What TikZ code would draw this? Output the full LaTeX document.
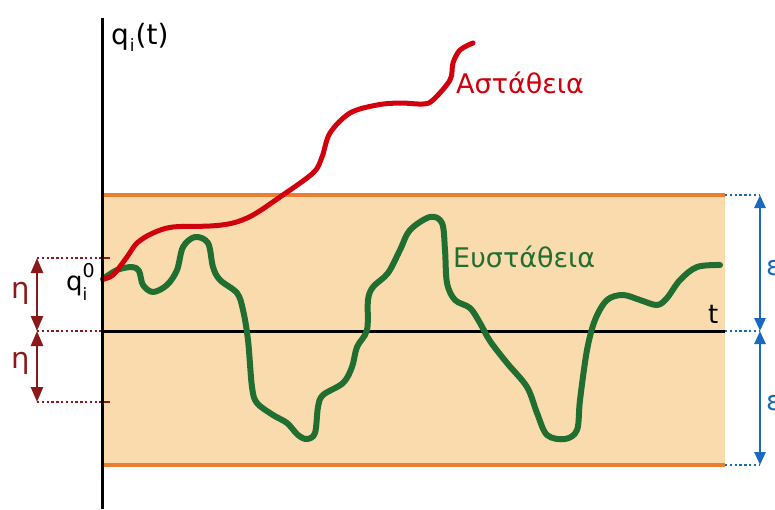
\documentclass[tikz,border=0pt]{standalone}
\usepackage{fontspec}
\setmainfont{DejaVu Sans}
\usetikzlibrary{arrows.meta}
\definecolor{bandfill}{RGB}{250,219,173}
\definecolor{bandline}{RGB}{237,125,49}
\definecolor{unstred}{RGB}{208,0,12}
\definecolor{stgreen}{RGB}{32,110,48}
\definecolor{etared}{RGB}{140,25,25}
\definecolor{epsblue}{RGB}{25,105,190}
\tikzset{
  biglabel/.style={inner sep=0pt,anchor=base west,font=\fontsize{27}{32}\selectfont},
  guide/.style={line width=1.4pt,dash pattern=on 2.4pt off 2.4pt},
  etaarrow/.style={etared,line width=2.6pt,{Triangle[width=12pt,length=15pt]}-{Triangle[width=12pt,length=15pt]}},
  epsarrow/.style={epsblue,line width=2.6pt,{Triangle[width=11pt,length=13pt]}-{Triangle[width=11pt,length=13pt]}},
  curve/.style={line cap=round,line join=round,smooth,tension=0.55}
}
\begin{document}
\begin{tikzpicture}[x=1pt,y=-1pt]
\useasboundingbox (0,0) rectangle (775,509);
% band
\fill[bandfill] (102,195) rectangle (725,465);
\draw[bandline,line width=3.6pt] (102,195) -- (725,195);
\draw[bandline,line width=3.6pt] (102,465) -- (725,465);
% coordinates
\coordinate (eT) at (37,258);
\coordinate (eM) at (37,331);
\coordinate (eB) at (37,402);
\coordinate (aT) at (102,258);
\coordinate (aM) at (102,331);
\coordinate (aB) at (102,402);
\coordinate (tT) at (110,258);
\coordinate (tB) at (110,402);
\coordinate (bT) at (725,195);
\coordinate (bM) at (725,331);
\coordinate (bB) at (725,465);
\coordinate (pT) at (760,195);
\coordinate (pM) at (760,331);
\coordinate (pB) at (760,465);
\coordinate (yTop) at (102,18);
\coordinate (yBot) at (102,509);
% t axis
\draw[black,line width=3pt] (aM) -- (bM);
% eta guides
\draw[etared,guide] (eT) -- (aT);
\draw[etared,guide] (eM) -- (aM);
\draw[etared,guide] (eB) -- (aB);
\draw[etared,line width=2.8pt] (aT) -- (tT);
\draw[etared,line width=2.8pt] (aB) -- (tB);
\draw[etaarrow] (eT) -- (eM);
\draw[etaarrow] (eM) -- (eB);
% eps guides
\draw[epsblue,guide] (bT) -- (pT);
\draw[epsblue,guide] (bM) -- (pM);
\draw[epsblue,guide] (bB) -- (pB);
\draw[epsarrow] (pT) -- (pM);
\draw[epsarrow] (pM) -- (pB);
% stable curve
\draw[stgreen,line width=6pt,curve] plot coordinates {(103,279) (117,270) (132,267) (139,271) (143,285) (153,292) (167,285) (177,270) (183,247) (195,237) (208,243) (213,267) (220,280) (237,293) (243,310) (248,340) (252,387) (257,403) (273,415) (287,423) (298,435) (307,439) (315,433) (318,407) (323,395) (343,383) (352,367) (357,347) (367,330) (368,300) (373,287) (388,273) (400,250) (410,230) (430,217) (442,223) (445,250) (447,283) (455,300) (470,308) (480,323) (490,341) (507,363) (527,387) (537,413) (547,435) (565,439) (577,430) (580,400) (587,350) (595,320) (607,300) (623,295) (640,300) (657,305) (667,298) (680,280) (697,267) (720,265)};
% unstable curve
\draw[unstred,line width=5pt,curve] plot coordinates {(103,279) (113,275) (127,257) (137,243) (153,233) (173,227) (210,226) (233,223) (253,215) (280,197) (313,173) (322,157) (330,133) (350,113) (377,105) (400,103) (423,104) (433,100) (450,80) (453,63) (460,50) (473,43)};
% vertical axis
\draw[black,line width=3pt] (yTop) -- (yBot);
% labels
\node[biglabel,font=\fontsize{28}{32}\selectfont] (qt) at (111,44) {q\kern1pt\raisebox{-7pt}{\fontsize{17}{17}\selectfont i}\kern1pt(t)};
\node[biglabel,font=\fontsize{26}{30}\selectfont] (q0) at (66,290) {q\rlap{\raisebox{-10pt}{\fontsize{17}{17}\selectfont i}}\raisebox{13pt}{\fontsize{19}{19}\selectfont 0}};
\node[biglabel,unstred] (unst) at (456,93) {Αστάθεια};
\node[biglabel,stgreen] (st) at (453,267) {Ευστάθεια};
\node[biglabel,font=\fontsize{26}{30}\selectfont] (tl) at (708,323) {t};
\node[biglabel,etared,font=\fontsize{29}{32}\selectfont] (eta1) at (11,298) {η};
\node[biglabel,etared,font=\fontsize{29}{32}\selectfont] (eta2) at (11,368) {η};
\node[biglabel,epsblue] (eps1) at (766,275) {ε};
\node[biglabel,epsblue] (eps2) at (766,410) {ε};
\end{tikzpicture}
\end{document}
